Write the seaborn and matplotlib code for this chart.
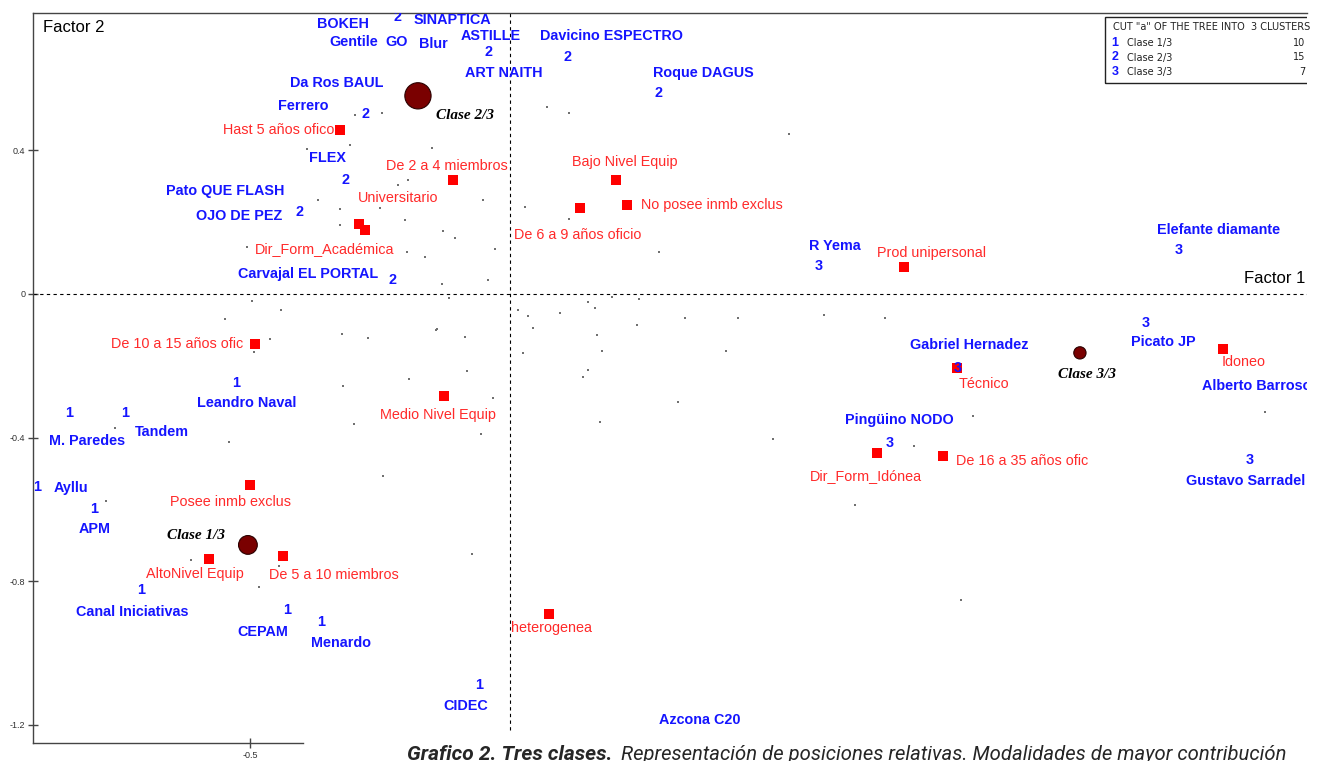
import matplotlib
matplotlib.use("Agg")
import matplotlib.pyplot as plt
import seaborn as sns
import pandas as pd
from matplotlib.patches import Rectangle

# --- data ---------------------------------------------------------------
# company points, drawn as their cluster number
num_x = [-0.217, -0.042, 0.110, 0.285, -0.277, -0.317, -0.404, -0.225,
         -0.527, -0.848, -0.740, -0.910, -0.800, -0.710, -0.429, -0.363, -0.060,
         0.594, 1.285, 1.223, 0.860, 0.731, 1.423]
num_y = [0.772, 0.674, 0.660, 0.560, 0.501, 0.318, 0.228, 0.039,
         -0.248, -0.331, -0.331, -0.538, -0.599, -0.825, -0.880, -0.914, -1.089,
         0.078, 0.123, -0.081, -0.206, -0.415, -0.462]
num_cluster = [2, 2, 2, 2, 2, 2, 2, 2,
               1, 1, 1, 1, 1, 1, 1, 1, 1,
               3, 3, 3, 3, 3, 3]

# company names
company_names = ["BOKEH", "SINAPTICA", "Gentile", "GO", "Blur", "ASTILLE", "ART NAITH",
                 "Davicino ESPECTRO", "Roque DAGUS", "Da Ros BAUL", "Ferrero", "FLEX",
                 "Pato QUE FLASH", "OJO DE PEZ", "Carvajal EL PORTAL",
                 "Leandro Naval", "M. Paredes", "Tandem", "Ayllu", "APM",
                 "Canal Iniciativas", "CEPAM", "Menardo", "CIDEC", "Azcona C20",
                 "R Yema", "Elefante diamante", "Picato JP", "Gabriel Hernadez",
                 "Pingüino NODO", "Alberto Barroso", "Gustavo Sarradel"]
name_x = [-0.321, -0.110, -0.300, -0.219, -0.148, -0.038, -0.012,
          0.196, 0.371, -0.333, -0.398, -0.350,
          -0.548, -0.521, -0.388,
          -0.506, -0.813, -0.669, -0.844, -0.798,
          -0.727, -0.475, -0.325, -0.085, 0.365,
          0.625, 1.362, 1.256, 0.883,
          0.748, 1.331, 1.300]
name_y = [0.752, 0.763, 0.702, 0.702, 0.696, 0.719, 0.616,
          0.719, 0.616, 0.588, 0.524, 0.379,
          0.287, 0.217, 0.056,
          -0.304, -0.409, -0.384, -0.540, -0.655,
          -0.886, -0.942, -0.972, -1.148, -1.187,
          0.134, 0.178, -0.134, -0.142,
          -0.351, -0.256, -0.521]

# active modalities (red squares)
mod_labels = ["Hast 5 años ofico", "De 2 a 4 miembros", "Universitario",
              "Dir_Form_Académica", "Bajo Nivel Equip", "No posee inmb exclus",
              "De 6 a 9 años oficio", "Prod unipersonal", "De 10 a 15 años ofic",
              "Medio Nivel Equip", "Posee inmb exclus", "AltoNivel Equip",
              "De 5 a 10 miembros", "heterogenea", "Técnico", "Idoneo",
              "Dir_Form_Idónea", "De 16 a 35 años ofic"]
mod_x = [-0.327, -0.110, -0.290, -0.279, 0.204, 0.225, 0.135, 0.758, -0.490,
         -0.127, -0.500, -0.579, -0.437, 0.075, 0.860, 1.371, 0.706, 0.833]
mod_y = [0.457, 0.318, 0.195, 0.178, 0.318, 0.248, 0.240, 0.075, -0.139,
         -0.284, -0.532, -0.738, -0.730, -0.891, -0.206, -0.153, -0.443, -0.451]

# class centroids
cent_labels = ["Clase 1/3", "Clase 2/3", "Clase 3/3"]
cent_x = [-0.504, -0.177, 1.096]
cent_y = [-0.699, 0.552, -0.164]
cluster_counts = [10, 15, 7]

# other (unlabelled) points
dot_x = [-0.298, -0.246, -0.390, -0.308, -0.150, -0.369, -0.215, -0.196, -0.327, -0.250,
         -0.202, -0.327, -0.506, -0.163, -0.198, 0.071, 0.113, 0.537, -0.052, 0.029,
         0.113, -0.129, -0.106, -0.029, 0.287, -0.496, -0.440, -0.548, -0.323, -0.273,
         -0.140, -0.462, -0.492, -0.321, -0.194, -0.760, -0.300, -0.540, -0.244, -0.777,
         -0.073, -0.613, -0.483, -0.444, -0.131, -0.042, -0.117, 0.015, 0.035, 0.096,
         0.163, 0.150, 0.196, 0.248, 0.337, 0.438, 0.604, 0.244, 0.044, -0.142,
         -0.087, 0.167, 0.177, 0.415, 0.025, -0.083, 0.150, 0.140, -0.033, 0.323,
         0.173, -0.056, 0.506, 0.663, 0.721, 0.890, 0.777, 1.452, 0.867]
dot_y = [0.499, 0.504, 0.404, 0.415, 0.407, 0.262, 0.304, 0.318, 0.237, 0.240,
         0.206, 0.192, 0.131, 0.103, 0.117, 0.521, 0.504, 0.446, 0.262, 0.242,
         0.209, 0.175, 0.156, 0.125, 0.117, -0.019, -0.045, -0.070, -0.111, -0.123,
         -0.097, -0.125, -0.162, -0.256, -0.237, -0.373, -0.362, -0.412, -0.507, -0.577,
         -0.724, -0.741, -0.816, -0.758, 0.028, 0.039, -0.011, -0.045, -0.061, -0.053,
         -0.039, -0.022, -0.008, -0.014, -0.067, -0.067, -0.058, -0.086, -0.095, -0.100,
         -0.120, -0.114, -0.159, -0.159, -0.164, -0.214, -0.212, -0.231, -0.290, -0.301,
         -0.357, -0.390, -0.404, -0.588, -0.067, -0.340, -0.423, -0.329, -0.852]

yticks = [-1.2, -0.8, -0.4, 0, 0.4]
ytick_labels = ["-1.2", "-0.8", "-0.4", "0", "0.4"]
xticks = [-0.5]
xtick_labels = ["-0.5"]

legend_title = 'CUT "a" OF THE TREE INTO  3 CLUSTERS'
caption_bold = "Grafico 2. Tres clases."
caption_rest = "Representación de posiciones relativas. Modalidades de mayor contribución"

# label placement for the modalities: (dx px, dy px, ha)
mod_offsets = [(-6, 0, "right"), (-6, 14, "center"), (39, 26, "center"),
               (-40, -19, "center"), (9, 18, "center"), (14, 0, "left"),
               (-3, -27, "center"), (27, 14, "center"), (-12, 0, "right"),
               (-6, -19, "center"), (-19, -17, "center"), (-14, -15, "center"),
               (51, -19, "center"), (3, -14, "center"), (27, -16, "center"),
               (21, -13, "center"), (-11, -23, "center"), (13, -5, "left")]
cent_offsets = [(-52, 9), (47, -20), (7, -22)]
left_names = {"Alberto Barroso", "Gustavo Sarradel"}

BLUE = "#1515ff"
RED = "#ff2a2a"

sns.set_theme(style="white")
plt.rcParams["font.family"] = ["Liberation Sans", "DejaVu Sans"]

fig = plt.figure(figsize=(13.24, 7.61), dpi=100)
ax = fig.add_axes([33 / 1324, 18 / 761, 1274 / 1324, 730 / 761])
ax.set_xlim(-0.9173, 1.5327)
ax.set_ylim(-1.2507, 0.7827)

# zero axes
ax.axhline(0, color="black", lw=0.8, ls=(0, (3, 3)), zorder=1)
ax.axvline(0, ymin=0.018, ymax=1, color="black", lw=0.8, ls=(0, (3, 3)), zorder=1)

dots = pd.DataFrame({"x": dot_x, "y": dot_y})
sns.scatterplot(data=dots, x="x", y="y", ax=ax, marker="s", s=2, color="#707070",
                linewidth=0, zorder=2)

mods = pd.DataFrame({"x": mod_x, "y": mod_y, "label": mod_labels})
sns.scatterplot(data=mods, x="x", y="y", ax=ax, marker="s", s=52, color="#ff0000",
                linewidth=0, zorder=3)

cents = pd.DataFrame({"x": cent_x, "y": cent_y, "n": cluster_counts})
sns.scatterplot(data=cents, x="x", y="y", size="n", sizes=(78, 357), size_norm=(7, 15),
                ax=ax, color="#7a0000", edgecolor="#2a0000", linewidth=0.8,
                legend=False, zorder=4)

for row, (dx, dy, ha) in zip(mods.itertuples(), mod_offsets):
    ax.annotate(row.label, (row.x, row.y), xytext=(dx * 0.72, dy * 0.72),
                textcoords="offset points", ha=ha, va="center", color=RED,
                fontsize=10.4, zorder=5, annotation_clip=False)

for x, y, c in zip(num_x, num_y, num_cluster):
    ax.text(x, y, str(c), color=BLUE, fontsize=10.4, fontweight="bold",
            ha="center", va="center", zorder=6, clip_on=True)

for name, x, y in zip(company_names, name_x, name_y):
    ax.text(x, y, name, color=BLUE, fontsize=10.4, fontweight="bold",
            ha="left" if name in left_names else "center", va="center",
            zorder=6, clip_on=True)

for lab, x, y, (dx, dy) in zip(cent_labels, cent_x, cent_y, cent_offsets):
    ax.annotate(lab, (x, y), xytext=(dx * 0.72, dy * 0.72), textcoords="offset points",
                ha="center", va="center", fontsize=11, fontweight="bold",
                fontstyle="italic", family="Liberation Serif", color="black", zorder=6)

ax.text(0.008, 0.98, "Factor 2", transform=ax.transAxes, fontsize=12,
        ha="left", va="center", color="black")
ax.text(0.9985, 0.022, "Factor 1", transform=ax.get_yaxis_transform(), fontsize=12,
        ha="right", va="bottom", color="black")

# legend box (clipped at the right edge like the original)
box = Rectangle((0.8414, 0.904), 0.2, 0.0905, transform=ax.transAxes, fill=False,
                edgecolor="#222222", lw=1.0, clip_on=True, zorder=7)
ax.add_patch(box)
narrow = ["Liberation Sans Narrow", "DejaVu Sans"]
ax.text((1113 - 33) / 1274, (743 - 27) / 730, legend_title, transform=ax.transAxes,
        fontsize=7, family=narrow, ha="left", va="center", color="#222222", zorder=8)
for i, (lab, n) in enumerate(zip(cent_labels, cluster_counts)):
    yy = (743 - (43 + 14.5 * i)) / 730
    ax.text((1115 - 33) / 1274, yy, str(i + 1), transform=ax.transAxes, color=BLUE,
            fontsize=9, fontweight="bold", ha="center", va="center", zorder=8)
    ax.text((1127 - 33) / 1274, yy, lab, transform=ax.transAxes, fontsize=7,
            family=narrow, ha="left", va="center", color="#222222", zorder=8)
    ax.text((1305 - 33) / 1274, yy, str(n), transform=ax.transAxes, fontsize=7,
            family=narrow, ha="right", va="center", color="#222222", zorder=8)

# axes frame
for side in ["left", "top", "bottom"]:
    ax.spines[side].set_visible(True)
    ax.spines[side].set_color("#444444")
    ax.spines[side].set_linewidth(1.0)
ax.spines["right"].set_visible(False)
ax.spines["bottom"].set_bounds(-0.9173, -0.398)

ax.set_yticks(yticks)
ax.set_yticklabels(ytick_labels)
ax.set_xticks(xticks)
ax.set_xticklabels(xtick_labels)
ax.tick_params(axis="both", direction="inout", length=7, width=1, color="#444444",
               labelsize=6.5, labelcolor="#333333", left=True, bottom=True, pad=2)
ax.set_xlabel("")
ax.set_ylabel("")
ax.grid(False)

# caption below the map
fig.text(407 / 1324, 16 / 761, caption_bold, fontsize=15, fontweight="bold",
         fontstyle="italic", family=["Roboto", "DejaVu Sans"], ha="left", va="top")
fig.text(621 / 1324, 16 / 761, caption_rest, fontsize=14.6,
         fontstyle="italic", family=["Roboto", "DejaVu Sans"], ha="left", va="top")

fig.savefig("out.png", dpi=100, facecolor="white")
